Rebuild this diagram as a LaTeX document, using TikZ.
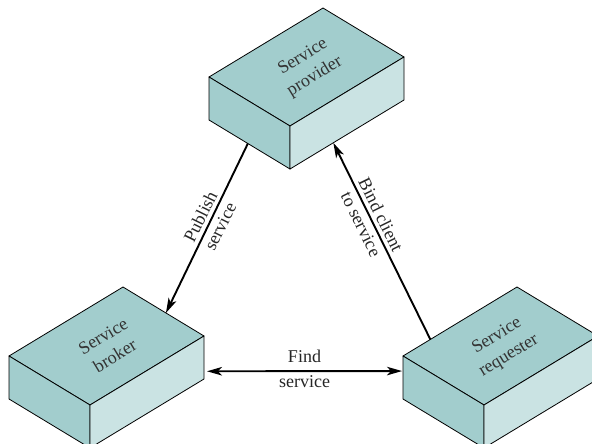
\documentclass[tikz,border=0pt]{standalone}
\usepackage{fontspec}
\setmainfont{Liberation Serif}
\usetikzlibrary{calc,arrows.meta}
\definecolor{facedark}{RGB}{162,205,205}
\definecolor{facelight}{RGB}{202,227,227}
\tikzset{
  boxedge/.style={draw=black,line width=0.8pt,line join=round},
  boxlabel/.style={align=center,rotate=31.2,font=\fontsize{18}{23}\selectfont,text=black!80,inner sep=0pt},
  flow/.style={line width=1.9pt,-{Stealth[length=15pt,width=8.5pt,inset=4pt]}},
  twoflow/.style={line width=1.9pt,{Stealth[length=15pt,width=8.5pt,inset=4pt]}-{Stealth[length=15pt,width=8.5pt,inset=4pt]}},
  flowlabel/.style={align=center,font=\fontsize{18}{22}\selectfont,text=black!85,inner sep=0pt}
}
% #1 name, #2 left vertex of top face, #3 label
\newcommand\isobox[3]{%
  \coordinate (#1-l) at #2;
  \coordinate (#1-t) at ($(#1-l)+(114,-69)$);
  \coordinate (#1-r) at ($(#1-l)+(195,-20)$);
  \coordinate (#1-f) at ($(#1-l)+(81,49)$);
  \coordinate (#1-lb) at ($(#1-l)+(0,43)$);
  \coordinate (#1-rb) at ($(#1-r)+(0,43)$);
  \coordinate (#1-fb) at ($(#1-f)+(0,43)$);
  \filldraw[boxedge,fill=facedark] (#1-l) -- (#1-t) -- (#1-r) -- (#1-f) -- cycle;
  \filldraw[boxedge,fill=facedark] (#1-l) -- (#1-f) -- (#1-fb) -- (#1-lb) -- cycle;
  \filldraw[boxedge,fill=facelight] (#1-f) -- (#1-r) -- (#1-rb) -- (#1-fb) -- cycle;
  \node[boxlabel] (#1) at ($(#1-l)+(100,-10)$) {#3};
}
\begin{document}
\begin{tikzpicture}[x=1pt,y=-1pt]
\useasboundingbox (0,0) rectangle (592,444);
\begin{scope}
\clip (0,0) rectangle (592,444);
\isobox{prov}{(209,77)}{Service\\provider}
\isobox{brok}{(9,356)}{Service\\broker}
\isobox{req}{(403,356)}{Service\\requester}
\end{scope}
% connector end points on the box edges
\coordinate (pubA) at ($(prov-lb)!0.48!(prov-fb)$);
\coordinate (pubB) at ($(brok-t)!0.53!(brok-r)$);
\coordinate (bindA) at ($(req-l)!0.24!(req-t)$);
\coordinate (bindB) at ($(prov-fb)!0.38!(prov-rb)$);
\coordinate (findA) at ($(brok-r)!0.82!(brok-rb)+(3,0)$);
\coordinate (findB) at ($(req-l)!0.35!(req-lb)+(-1,0)$);
\draw[flow] (pubA) -- (pubB)
  node[flowlabel,pos=0.46,rotate=63.7] {Publish\\service};
\draw[flow] (bindA) -- (bindB)
  node[flowlabel,pos=0.61,rotate=-63.8] {Bind client\\to service};
\draw[twoflow] (findA) -- (findB)
  node[flowlabel,midway,anchor=base,yshift=9pt] {Find}
  node[flowlabel,midway,anchor=base,yshift=-16pt] {service};
\end{tikzpicture}
\end{document}
